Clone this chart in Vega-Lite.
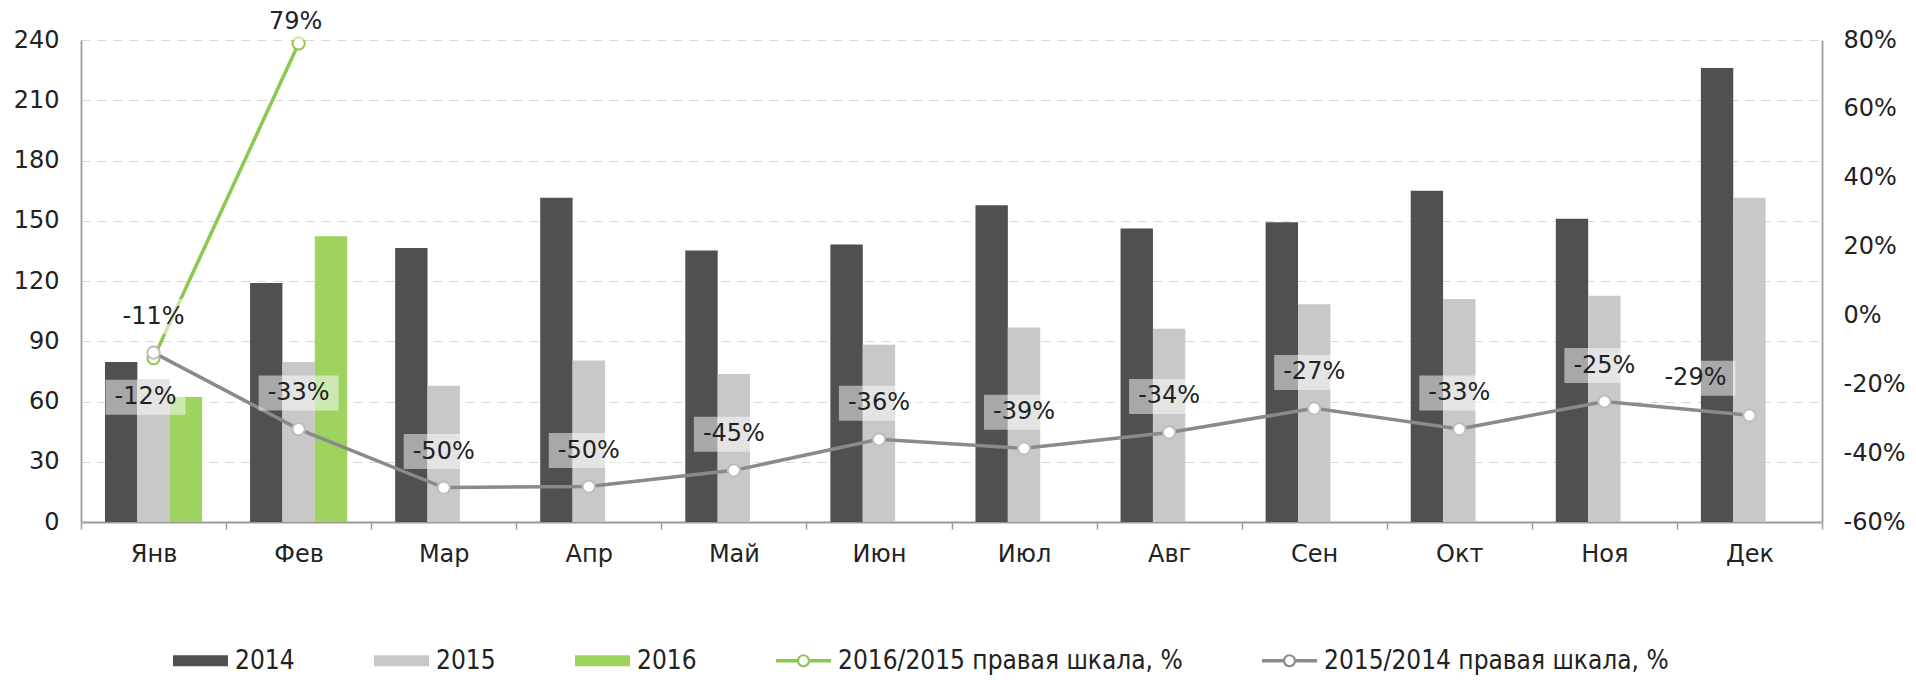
{
  "$schema": "https://vega.github.io/schema/vega-lite/v6.json",
  "width": 1741,
  "height": 482,
  "autosize": {"type": "none"},
  "padding": {"left": 81, "top": 40, "right": 94, "bottom": 158},
  "background": "white",
  "config": {
    "view": {"stroke": null},
    "locale": {"number": {"decimal": ".", "thousands": ",", "grouping": [3], "currency": ["$", ""], "minus": "-"}},
    "axis": {"labelFont": "DejaVu Sans", "labelFontSize": 24, "labelColor": "#222222", "title": null}
  },
  "datasets": {
    "bars": [
      {"month": "Янв", "series": "2014", "value": 79.7},
      {"month": "Янв", "series": "2015", "value": 70.9},
      {"month": "Янв", "series": "2016", "value": 62.2},
      {"month": "Фев", "series": "2014", "value": 119},
      {"month": "Фев", "series": "2015", "value": 79.7},
      {"month": "Фев", "series": "2016", "value": 142.3},
      {"month": "Мар", "series": "2014", "value": 136.4},
      {"month": "Мар", "series": "2015", "value": 67.8},
      {"month": "Апр", "series": "2014", "value": 161.4},
      {"month": "Апр", "series": "2015", "value": 80.4},
      {"month": "Май", "series": "2014", "value": 135.2},
      {"month": "Май", "series": "2015", "value": 73.7},
      {"month": "Июн", "series": "2014", "value": 138.2},
      {"month": "Июн", "series": "2015", "value": 88.3},
      {"month": "Июл", "series": "2014", "value": 157.7},
      {"month": "Июл", "series": "2015", "value": 96.8},
      {"month": "Авг", "series": "2014", "value": 146.2},
      {"month": "Авг", "series": "2015", "value": 96.2},
      {"month": "Сен", "series": "2014", "value": 149.2},
      {"month": "Сен", "series": "2015", "value": 108.4},
      {"month": "Окт", "series": "2014", "value": 165},
      {"month": "Окт", "series": "2015", "value": 111},
      {"month": "Ноя", "series": "2014", "value": 151},
      {"month": "Ноя", "series": "2015", "value": 112.7},
      {"month": "Дек", "series": "2014", "value": 226},
      {"month": "Дек", "series": "2015", "value": 161.4}
    ],
    "ratios": [
      {"month": "Янв", "m": 1, "series": "2016/2015 правая шкала, %", "pct": -0.124},
      {"month": "Фев", "m": 2, "series": "2016/2015 правая шкала, %", "pct": 0.79},
      {"month": "Янв", "m": 1, "series": "2015/2014 правая шкала, %", "pct": -0.108},
      {"month": "Фев", "m": 2, "series": "2015/2014 правая шкала, %", "pct": -0.33},
      {"month": "Мар", "m": 3, "series": "2015/2014 правая шкала, %", "pct": -0.5},
      {"month": "Апр", "m": 4, "series": "2015/2014 правая шкала, %", "pct": -0.497},
      {"month": "Май", "m": 5, "series": "2015/2014 правая шкала, %", "pct": -0.45},
      {"month": "Июн", "m": 6, "series": "2015/2014 правая шкала, %", "pct": -0.36},
      {"month": "Июл", "m": 7, "series": "2015/2014 правая шкала, %", "pct": -0.386},
      {"month": "Авг", "m": 8, "series": "2015/2014 правая шкала, %", "pct": -0.34},
      {"month": "Сен", "m": 9, "series": "2015/2014 правая шкала, %", "pct": -0.27},
      {"month": "Окт", "m": 10, "series": "2015/2014 правая шкала, %", "pct": -0.33},
      {"month": "Ноя", "m": 11, "series": "2015/2014 правая шкала, %", "pct": -0.25},
      {"month": "Дек", "m": 12, "series": "2015/2014 правая шкала, %", "pct": -0.29}
    ]
  },
  "encoding": {
    "x": {
      "field": "month",
      "type": "nominal",
      "sort": ["Янв", "Фев", "Мар", "Апр", "Май", "Июн", "Июл", "Авг", "Сен", "Окт", "Ноя", "Дек"],
      "scale": {"paddingInner": 0, "paddingOuter": 0},
      "axis": {
        "title": null,
        "labelAngle": 0,
        "tickBand": "extent",
        "ticks": true,
        "tickSize": 7,
        "tickColor": "#9a9a9a",
        "tickWidth": 1.5,
        "domainColor": "#9a9a9a",
        "domainWidth": 2,
        "labelPadding": 13,
        "grid": false
      }
    }
  },
  "layer": [
    {
      "data": {"name": "bars"},
      "mark": {"type": "bar"},
      "encoding": {
        "xOffset": {"field": "series", "type": "nominal", "scale": {"domain": ["2014", "2015", "2016"], "paddingInner": 0, "paddingOuter": 0.74}},
        "y": {
          "field": "value",
          "type": "quantitative",
          "scale": {"domain": [0, 240], "nice": false},
          "axis": {
            "orient": "left",
            "title": null,
            "values": [0, 30, 60, 90, 120, 150, 180, 210, 240],
            "ticks": false,
            "tickSize": 0,
            "domain": true,
            "domainColor": "#a6a6a6",
            "domainWidth": 2,
            "grid": true,
            "gridDash": [9, 7],
            "gridColor": "#dcdad0",
            "gridWidth": 1.2,
            "labelPadding": 22
          }
        },
        "color": {
          "field": "series",
          "type": "nominal",
          "scale": {
            "domain": ["2014", "2015", "2016", "2016/2015 правая шкала, %", "2015/2014 правая шкала, %"],
            "range": ["#505050", "#c8c8c8", "#9dd35e", "#8cc850", "#8a8a8a"]
          },
          "legend": {
            "orient": "none",
            "legendX": 92,
            "legendY": 593,
            "direction": "horizontal",
            "title": null,
            "symbolSize": 3025,
            "labelFont": "DejaVu Sans Condensed",
            "labelFontSize": 26,
            "labelColor": "#222222",
            "labelOffset": 7,
            "columnPadding": 79,
            "padding": 0,
            "labelLimit": 800,
            "encode": {
              "symbols": {
                "update": {
                  "shape": {"signal": "datum.index < 3 ? 'M-1,-0.2H1V0.2H-1Z' : 'M-1,-0.065H-0.24V0.065H-1Z M0.24,-0.065H1V0.065H0.24Z M-0.24,0A0.24,0.24,0,1,1,0.24,0A0.24,0.24,0,1,1,-0.24,0Z M-0.16,0A0.16,0.16,0,1,0,0.16,0A0.16,0.16,0,1,0,-0.16,0Z'"},
                  "fill": {"signal": "scale('color', datum.value)"},
                  "stroke": {"value": "transparent"},
                  "strokeWidth": {"value": 0},
                  "opacity": {"value": 1}
                }
              }
            }
          }
        }
      }
    },
    {
      "data": {"name": "ratios"},
      "encoding": {
        "y": {
          "field": "pct",
          "type": "quantitative",
          "scale": {"domain": [-0.6, 0.8], "nice": false, "zero": false},
          "axis": {
            "orient": "right",
            "title": null,
            "values": [-0.6, -0.4, -0.2, 0, 0.2, 0.4, 0.6, 0.8],
            "format": ".0%",
            "ticks": false,
            "tickSize": 0,
            "domain": true,
            "domainColor": "#a6a6a6",
            "domainWidth": 2,
            "grid": false,
            "labelPadding": 21
          }
        }
      },
      "layer": [
        {
          "mark": {"type": "line", "strokeWidth": 3.5},
          "encoding": {
            "color": {"field": "series", "type": "nominal"},
            "order": {"field": "m", "type": "quantitative"}
          }
        },
        {
          "mark": {"type": "point", "shape": "circle", "filled": true, "fill": "#ffffff", "size": 150, "strokeWidth": 2, "opacity": 1},
          "encoding": {
            "stroke": {
              "field": "series",
              "type": "nominal",
              "scale": {"domain": ["2016/2015 правая шкала, %", "2015/2014 правая шкала, %"], "range": ["#8cc850", "#bdbdbd"]},
              "legend": null
            }
          }
        },
        {
          "transform": [{"filter": "datum.series == '2015/2014 правая шкала, %' && datum.m != 12"}],
          "layer": [
            {"mark": {"type": "point", "shape": "M-2.286,-3.057H2.286V-1.057H-2.286Z", "size": 1225, "filled": true, "fill": "#ffffff", "opacity": 0.5, "strokeWidth": 0}},
            {"mark": {"type": "text", "dy": -36, "fontSize": 24, "font": "DejaVu Sans", "fill": "#222222", "baseline": "middle", "align": "center"},
             "encoding": {"text": {"field": "pct", "type": "quantitative", "format": ".0%"}}}
          ]
        },
        {
          "transform": [{"filter": "datum.series == '2015/2014 правая шкала, %' && datum.m == 12"}],
          "layer": [
            {"mark": {"type": "point", "shape": "M-5.371,-3.114H-0.8V-1.114H-5.371Z", "size": 1225, "filled": true, "fill": "#ffffff", "opacity": 0.5, "strokeWidth": 0}},
            {"mark": {"type": "text", "dx": -54, "dy": -37, "fontSize": 24, "font": "DejaVu Sans", "fill": "#222222", "baseline": "middle", "align": "center"},
             "encoding": {"text": {"field": "pct", "type": "quantitative", "format": ".0%"}}}
          ]
        },
        {
          "transform": [{"filter": "datum.series == '2016/2015 правая шкала, %' && datum.m == 1"}],
          "layer": [
            {"mark": {"type": "point", "shape": "M-2.743,1.229H1.829V3.229H-2.743Z", "size": 1225, "filled": true, "fill": "#ffffff", "opacity": 0.5, "strokeWidth": 0}},
            {"mark": {"type": "text", "dx": -8, "dy": 39, "fontSize": 24, "font": "DejaVu Sans", "fill": "#222222", "baseline": "middle", "align": "center"},
             "encoding": {"text": {"field": "pct", "type": "quantitative", "format": ".0%"}}}
          ]
        },
        {
          "transform": [{"filter": "datum.series == '2016/2015 правая шкала, %' && datum.m == 2"}],
          "layer": [
            {"mark": {"type": "point", "shape": "M-2.457,-2.2H2.114V-0.2H-2.457Z", "size": 1225, "filled": true, "fill": "#ffffff", "opacity": 0.5, "strokeWidth": 0}},
            {"mark": {"type": "text", "dx": -3, "dy": -21, "fontSize": 24, "font": "DejaVu Sans", "fill": "#222222", "baseline": "middle", "align": "center"},
             "encoding": {"text": {"field": "pct", "type": "quantitative", "format": ".0%"}}}
          ]
        }
      ]
    }
  ],
  "resolve": {"scale": {"y": "independent"}}
}
